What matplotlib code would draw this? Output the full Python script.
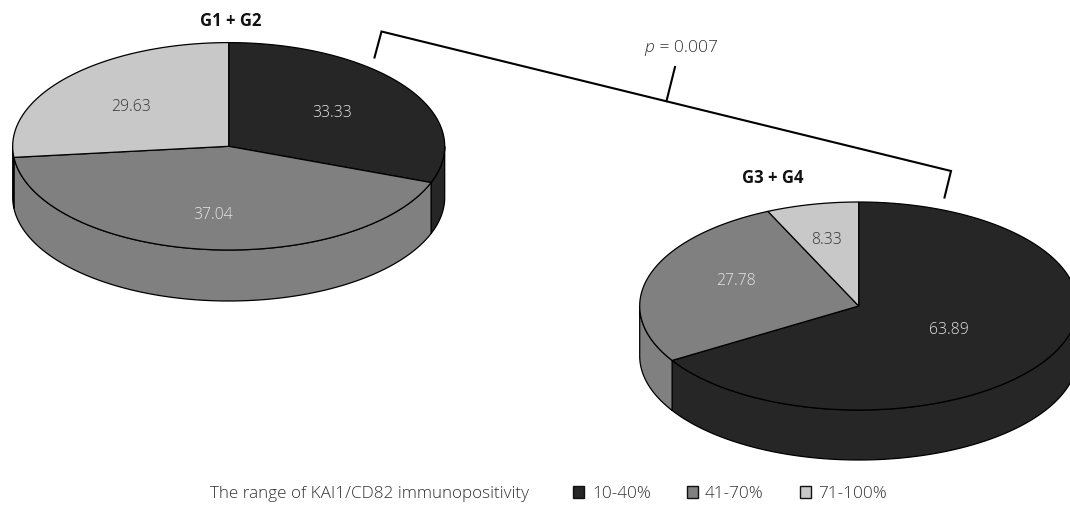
import matplotlib
matplotlib.use("Agg")
import matplotlib.pyplot as plt
from matplotlib.patches import Polygon
import numpy as np

plt.rcParams["font.family"] = ["Open Sans", "DejaVu Sans"]

# shares of each immunopositivity range, clockwise from 12 o'clock
range_labels = ["10-40%", "41-70%", "71-100%"]
g1g2_values = [33.33, 37.04, 29.63]
g3g4_values = [63.89, 27.78, 8.33]

colors = ["#262626", "#808080", "#c8c8c8"]
text_colors = ["#e6e6e6", "#e6e6e6", "#333333"]
EDGE = "#000000"
INK = "#333333"
W, H = 1070, 505

fig = plt.figure(figsize=(W / 100, H / 100), dpi=100)
ax = fig.add_axes([0, 0, 1, 1])
ax.set_xlim(0, W)
ax.set_ylim(H, 0)
ax.axis("off")


def warp(t):
    # the original is a perspective render: near wedges look wider
    return t - np.radians(11) * np.sin(t)


def rim(cx, cy, rx, ry, t):
    # t is already warped
    return cx + rx * np.sin(t), cy - ry * np.cos(t)


def draw_pie(values, cx, cy, rx, ry, depth):
    edges = warp(np.radians(np.cumsum([0] + values) / sum(values) * 360))

    # outer wall, only the front half shows
    for i, c in enumerate(colors):
        a, b = max(edges[i], np.pi / 2), min(edges[i + 1], 3 * np.pi / 2)
        if a >= b:
            continue
        t = np.linspace(a, b, 120)
        x, y = rim(cx, cy, rx, ry, t)
        pts = np.r_[np.c_[x, y], np.c_[x[::-1], y[::-1] + depth]]
        ax.add_patch(Polygon(pts, closed=True, fc=c, ec=EDGE, lw=0.9, zorder=2))

    # top face
    for i, c in enumerate(colors):
        t = np.linspace(edges[i], edges[i + 1], 200)
        x, y = rim(cx, cy, rx, ry, t)
        pts = np.r_[[[cx, cy]], np.c_[x, y]]
        ax.add_patch(Polygon(pts, closed=True, fc=c, ec=EDGE, lw=0.9, zorder=3))


draw_pie(g1g2_values, 228.7, 146.3, 216, 103.7, 51)
draw_pie(g3g4_values, 858.7, 306, 219, 104, 50)

# value labels
label_pos_1 = [(332, 113), (213, 215), (131, 107)]
label_pos_2 = [(949, 330), (736, 281), (827, 240)]
for vals, pos in [(g1g2_values, label_pos_1), (g3g4_values, label_pos_2)]:
    for v, (x, y), tc in zip(vals, pos, text_colors):
        ax.text(x, y, f"{v:.2f}", ha="center", va="center", fontsize=11.3,
                fontweight="light", color=tc, zorder=5)

# group titles
ax.text(231, 21, "G1 + G2", ha="center", va="center", fontsize=12,
        fontweight="bold", color="#111111")
ax.text(773, 178, "G3 + G4", ha="center", va="center", fontsize=12,
        fontweight="bold", color="#111111")

# significance bracket
ax.plot([374.5, 381.5, 951, 944.5], [57.5, 31.5, 171, 197.5], color="black",
        lw=1.5, solid_joinstyle="miter", zorder=4)
ax.plot([666.5, 675], [101, 67], color="black", lw=1.5, zorder=4)
ax.text(644, 48, "p", ha="left", va="center", fontsize=12.5, style="italic",
        fontweight="light", color=INK)
ax.text(655, 48, " = 0.007", ha="left", va="center", fontsize=12.5,
        fontweight="light", color=INK)

# legend
ax.text(210, 494, "The range of KAI1/CD82 immunopositivity", ha="left", va="center",
        fontsize=12.3, fontweight="light", color=INK)
square_x = [572.5, 686.5, 799.5]
text_x = [592, 705, 818]
for label, c, sx, tx in zip(range_labels, colors, square_x, text_x):
    ax.add_patch(plt.Rectangle((sx, 486), 11.5, 11.5, fc=c, ec="#111111", lw=1, zorder=3))
    ax.text(tx, 494, label, ha="left", va="center", fontsize=12.3,
            fontweight="light", color=INK)

fig.savefig("out.png", dpi=100)
plt.close(fig)
